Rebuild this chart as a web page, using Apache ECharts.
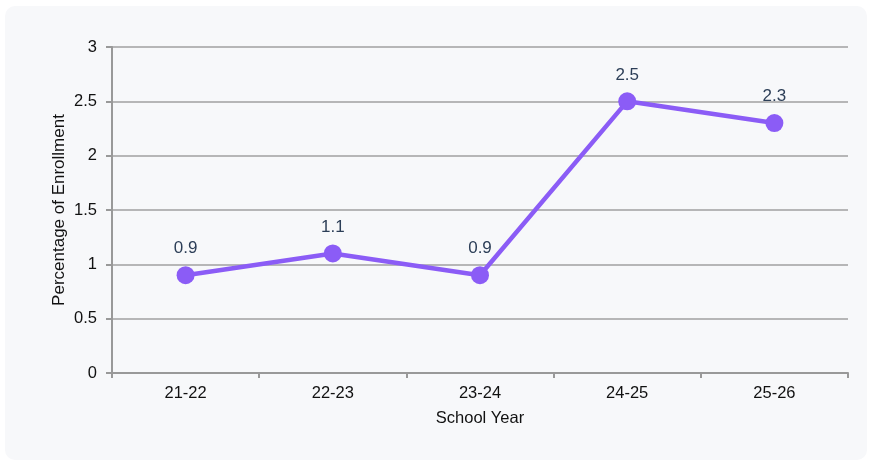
<!DOCTYPE html>
<html>
<head>
<meta charset="utf-8">
<script src="https://cdn.jsdelivr.net/npm/echarts@6/dist/echarts.min.js"></script>
<style>
  html, body { margin: 0; padding: 0; background: #ffffff; }
  #card { position: absolute; left: 5px; top: 6px; width: 862px; height: 454px; background: #f7f8fa; border-radius: 10px; }
  #chart { position: absolute; left: 0; top: 0; width: 872px; height: 463px; }
</style>
</head>
<body>
<div id="card"></div>
<div id="chart"></div>
<script>
// School years on the x axis
const schoolYears = ['21-22', '22-23', '23-24', '24-25', '25-26'];
// Percentage of enrollment per year
const enrollmentPct = [0.9, 1.1, 0.9, 2.5, 2.3];

const chart = echarts.init(document.getElementById('chart'), null, { renderer: 'canvas' });
const font = 'Helvetica, Arial, "Liberation Sans", sans-serif';

chart.setOption({
  backgroundColor: 'transparent',
  animation: false,
  grid: { left: 112, right: 24, top: 47, bottom: 90 },
  xAxis: {
    type: 'category',
    data: schoolYears,
    boundaryGap: true,
    name: 'School Year',
    nameLocation: 'middle',
    nameGap: 37,
    nameMoveOverlap: false,
    nameTextStyle: { color: '#111', fontSize: 16.5, fontFamily: font },
    axisLine: { lineStyle: { color: '#999', width: 2 } },
    axisTick: { show: true, length: 5, lineStyle: { color: '#999', width: 2 } },
    axisLabel: { color: '#111', fontSize: 16.5, fontFamily: font, margin: 12 }
  },
  yAxis: {
    type: 'value',
    min: 0,
    max: 3,
    interval: 0.5,
    name: 'Percentage of Enrollment',
    nameLocation: 'middle',
    nameGap: 44,
    nameMoveOverlap: false,
    nameRotate: 90,
    nameTextStyle: { color: '#111', fontSize: 17, fontFamily: font },
    axisLine: { show: true, lineStyle: { color: '#999', width: 2 } },
    axisTick: { show: true, length: 6, lineStyle: { color: '#999', width: 2 } },
    axisLabel: { color: '#111', fontSize: 16.5, fontFamily: font, margin: 15 },
    splitLine: { show: true, lineStyle: { color: '#a0a0a0', width: 1.5 } }
  },
  series: [{
    type: 'line',
    data: enrollmentPct,
    symbol: 'circle',
    symbolSize: 18,
    itemStyle: { color: '#8b5cf6' },
    lineStyle: { color: '#8b5cf6', width: 4.5 },
    label: {
      show: true,
      position: 'top',
      distance: 9,
      color: '#2c3e57',
      fontSize: 17,
      fontFamily: font
    }
  }]
});
</script>
</body>
</html>
